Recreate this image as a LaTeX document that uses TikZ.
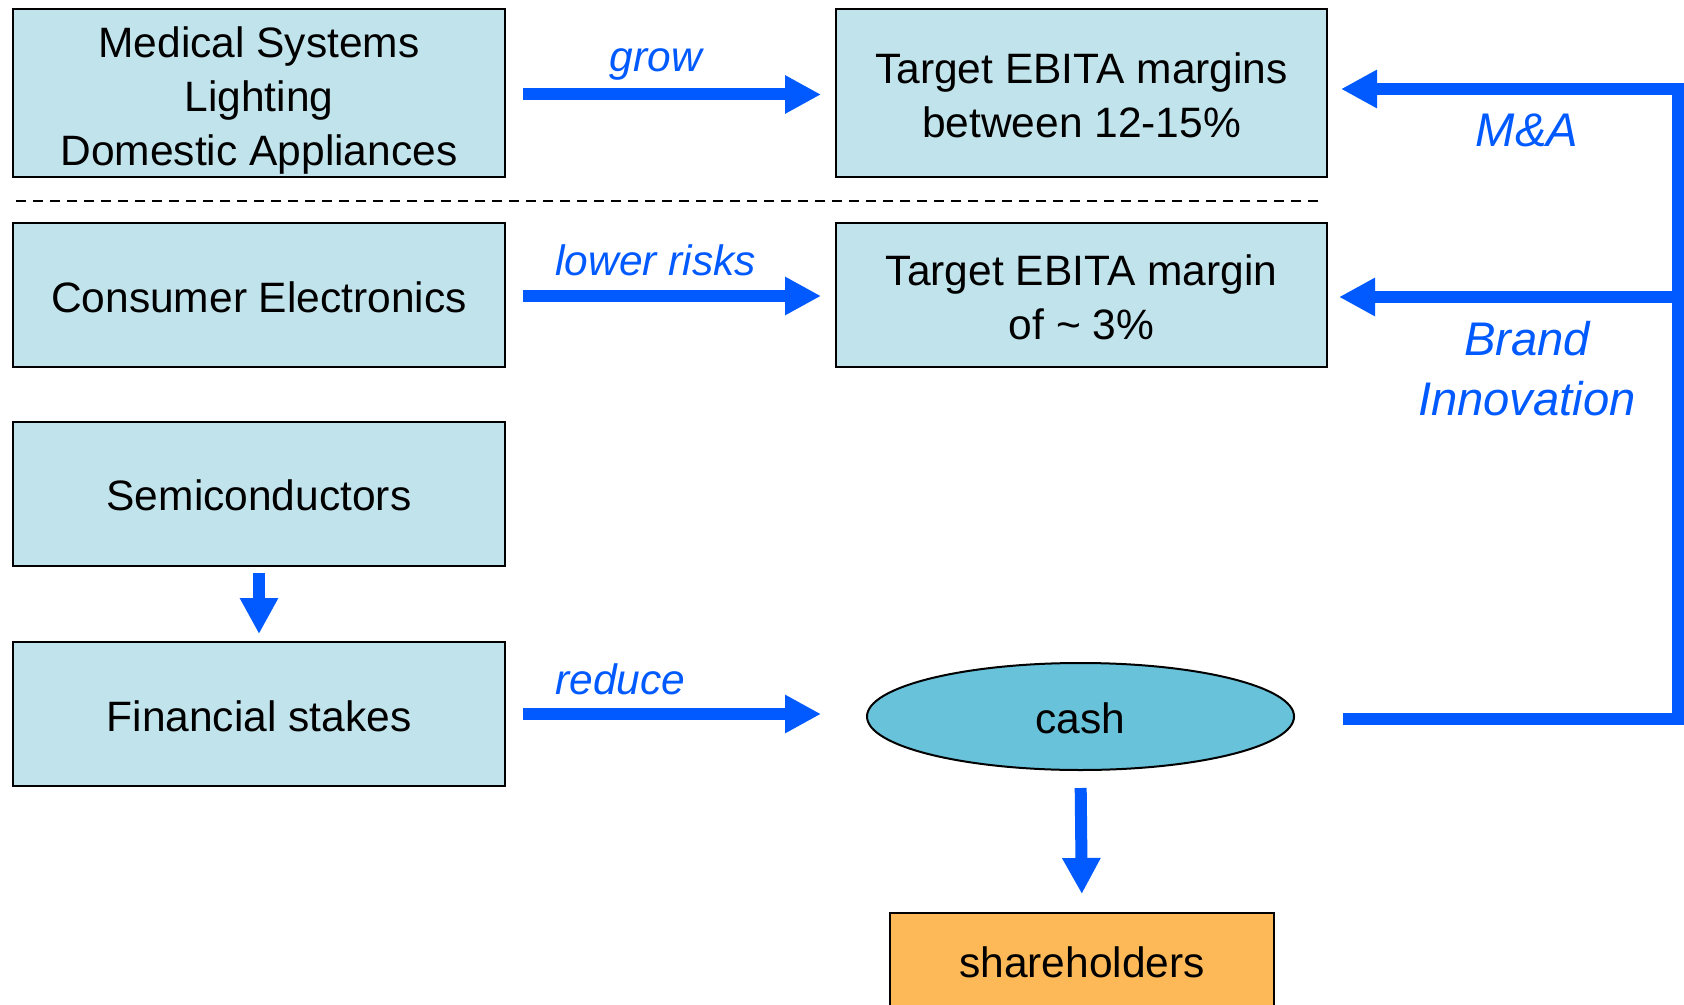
\documentclass[tikz,border=0pt]{standalone}
\usepackage{fontspec}
\setmainfont{Liberation Sans}
\usetikzlibrary{arrows.meta,shapes.geometric}
\definecolor{boxfill}{RGB}{193,227,236}
\definecolor{cashfill}{RGB}{104,194,218}
\definecolor{sharefill}{RGB}{253,185,87}
\definecolor{flowblue}{RGB}{0,90,255}
\newcommand{\pushdown}[1]{\rule{0pt}{#1}}
\begin{document}
\begin{tikzpicture}[x=0.5pt,y=-0.5pt,
  box/.style={draw=black, line width=1pt, fill=boxfill, rectangle, inner sep=0pt,
    align=center, font=\fontsize{21.25}{27}\selectfont},
  flow/.style={draw=flowblue, line width=6pt, line join=miter,
    -{Triangle[length=18pt,width=18pt]}},
  lab/.style={text=flowblue, inner sep=0pt, font=\fontsize{21.25}{27}\selectfont\itshape},
  biglab/.style={text=flowblue, inner sep=0pt, font=\fontsize{23.6}{29.5}\selectfont\itshape}]
\useasboundingbox (0,0) rectangle (1684,1005);

% boxes
\node[box, minimum width=246pt, minimum height=84pt] (b1) at (259,93)
  {\pushdown{23pt}Medical Systems\\Lighting\\Domestic Appliances};
\node[box, minimum width=245.5pt, minimum height=84pt] (b2) at (1081.5,93)
  {\pushdown{17.6pt}Target EBITA margins\\between 12-15\%};
\node[box, minimum width=246pt, minimum height=72pt] (b3) at (259,295)
  {\pushdown{17.6pt}Consumer Electronics};
\node[box, minimum width=245.5pt, minimum height=72pt] (b4) at (1081.5,295)
  {\pushdown{17.6pt}Target EBITA margin\\of \textasciitilde{} 3\%};
\node[box, minimum width=246pt, minimum height=72pt] (b5) at (259,494)
  {\pushdown{16.6pt}Semiconductors};
\node[box, minimum width=246pt, minimum height=72pt] (b6) at (259,714)
  {\pushdown{17.6pt}Financial stakes};
\node[ellipse, draw=black, line width=1pt, fill=cashfill, inner sep=0pt,
  minimum width=213.5pt, minimum height=53.5pt,
  font=\fontsize{21.25}{27}\selectfont] (cash) at (1080.5,716.5) {\pushdown{17.6pt}cash};
\node[box, fill=sharefill, minimum width=192pt, minimum height=49pt] (sh) at (1082,962)
  {shareholders};

% dashed separator
\coordinate (dl) at (16,201);
\coordinate (dr) at (1319,201);
\draw[black, line width=1pt, dash pattern=on 5pt off 3.5pt] (dl) -- (dr);

% left-to-right arrows
\draw[flow, shorten <=8.5pt, shorten >=7pt] ([yshift=-0.75pt]b1.east) -- ([yshift=-0.75pt]b2.west);
\draw[flow, shorten <=8.5pt, shorten >=7pt] ([yshift=-0.5pt]b3.east) -- ([yshift=-0.5pt]b4.west);
\draw[flow, shorten <=8.5pt, shorten >=22.5pt] (b6.east) -- (b6.east -| cash.west);

% vertical arrows
\draw[flow, shorten <=3pt, shorten >=3.5pt] (b5.south) -- (b6.north);
\draw[flow, shorten <=8.5pt, shorten >=9pt] (cash.south) -- (sh.north);

% feedback loop
\coordinate (fbstart) at (1343,719);
\coordinate (fbbr) at (1678,719);
\coordinate (fbmid) at (1678,297);
\coordinate (fbtop) at (1678,89);
\draw[flow, shorten >=6.5pt] (fbstart) -- (fbbr) -- (fbtop) -- (fbtop -| b2.east);
\draw[flow, shorten >=5.5pt] (fbmid) -- (fbmid -| b4.east);

% labels
\node[lab, anchor=base] (lgrow) at (656,72) {grow};
\node[lab, anchor=base west] (llow) at (555,276) {lower risks};
\node[lab, anchor=base west] (lred) at (555,694) {reduce};
\node[biglab, anchor=base] (lma) at (1527,147) {M\&A};
\node[biglab, anchor=base] (lbrand) at (1527,356) {Brand};
\node[biglab, anchor=base] (linno) at (1527,415) {Innovation};
\end{tikzpicture}
\end{document}
